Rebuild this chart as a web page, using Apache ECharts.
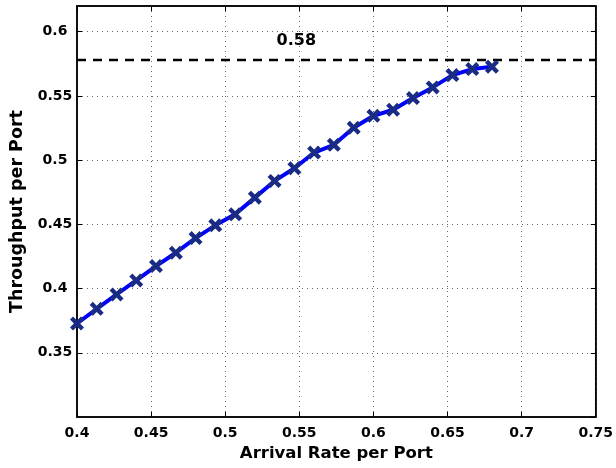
<!DOCTYPE html>
<html>
<head>
<meta charset="utf-8">
<script src="https://cdn.jsdelivr.net/npm/echarts@6/dist/echarts.min.js"></script>
<style>
  html, body { margin: 0; padding: 0; background: #fff; }
  #chart { width: 616px; height: 468px; }
</style>
</head>
<body>
<div id="chart"></div>
<script>
// arrival rate per port (x) and measured throughput (y)
const arrivalRate = [0.4, 0.4133, 0.4267, 0.44, 0.4533, 0.4667, 0.48, 0.4933, 0.5067, 0.52, 0.5333,
  0.5467, 0.56, 0.5733, 0.5867, 0.6, 0.6133, 0.6267, 0.64, 0.6533, 0.6667, 0.68]
const throughput = [0.3728, 0.3842, 0.3954, 0.4063, 0.4175, 0.4279, 0.4393, 0.4492, 0.4578, 0.4708, 0.4838,
  0.4937, 0.5059, 0.5119, 0.5252, 0.5345, 0.5392, 0.5483, 0.5566, 0.5662, 0.5709, 0.5727]

// saturation bound
const boundX = [0.4, 0.75]
const boundY = [0.578, 0.578]
const boundText = '0.58'
const boundTextPos = [0.548, 0.5925]

const xTicks = { min: 0.4, max: 0.75, interval: 0.05 }
const yTicks = { min: 0.3, max: 0.62, interval: 0.05 }

const font = '"DejaVu Sans", Verdana, sans-serif'
const crossPath = 'path://M0,2.2 L2.2,0 L5,2.8 L7.8,0 L10,2.2 L7.2,5 L10,7.8 L7.8,10 L5,7.2 L2.2,10 L0,7.8 L2.8,5 Z'

const fmt = v => String(+v.toFixed(2))

const chart = echarts.init(document.getElementById('chart'))

const gridLine = { show: true, lineStyle: { color: '#666', width: 1, type: [1, 4] } }
const tick = { show: true, inside: true, length: 5, lineStyle: { color: '#000', width: 1 } }
const frame = { show: true, lineStyle: { color: '#000', width: 1.5 } }

chart.setOption({
  animation: false,
  grid: { left: 77, right: 19, top: 6, bottom: 51, show: true, borderColor: '#000', borderWidth: 1.5 },
  xAxis: [
    {
      type: 'value', ...xTicks,
      name: 'Arrival Rate per Port', nameLocation: 'middle', nameGap: 25,
      nameTextStyle: { fontFamily: font, fontWeight: 'bold', fontSize: 16.5, color: '#000' },
      axisLine: frame,
      axisTick: tick,
      axisLabel: { fontFamily: font, fontWeight: 'bold', fontSize: 14, color: '#000', margin: 9, formatter: fmt },
      splitLine: gridLine
    },
    {
      type: 'value', ...xTicks, position: 'top',
      axisLine: frame, axisTick: tick, axisLabel: { show: false }, splitLine: { show: false }
    }
  ],
  yAxis: [
    {
      type: 'value', ...yTicks,
      name: 'Throughput per Port', nameLocation: 'middle', nameGap: 49,
      nameTextStyle: { fontFamily: font, fontWeight: 'bold', fontSize: 17.5, color: '#000' },
      axisLine: frame,
      axisTick: tick,
      axisLabel: {
        fontFamily: font, fontWeight: 'bold', fontSize: 14, color: '#000', margin: 22, align: 'center',
        showMaxLabel: false, showMinLabel: false, formatter: fmt
      },
      splitLine: gridLine
    },
    {
      type: 'value', ...yTicks, position: 'right',
      axisLine: frame, axisTick: tick, axisLabel: { show: false }, splitLine: { show: false }
    }
  ],
  series: [
    {
      type: 'line',
      data: boundX.map((x, i) => [x, boundY[i]]),
      symbol: 'none',
      lineStyle: { color: '#000', width: 2.5, type: [9, 7] },
      z: 3
    },
    {
      type: 'line',
      data: arrivalRate.map((x, i) => [x, throughput[i]]),
      symbol: crossPath,
      symbolSize: 14,
      lineStyle: { color: '#0000ff', width: 4 },
      itemStyle: { color: '#1a2b84' },
      z: 4
    },
    {
      type: 'scatter',
      data: [boundTextPos],
      symbolSize: 1,
      itemStyle: { color: '#fff', opacity: 1 },
      label: {
        show: true, position: 'inside', formatter: boundText,
        fontFamily: font, fontWeight: 'bold', fontSize: 16, color: '#000',
        textBorderWidth: 0, textShadowBlur: 0
      },
      z: 5
    }
  ]
})
</script>
</body>
</html>
